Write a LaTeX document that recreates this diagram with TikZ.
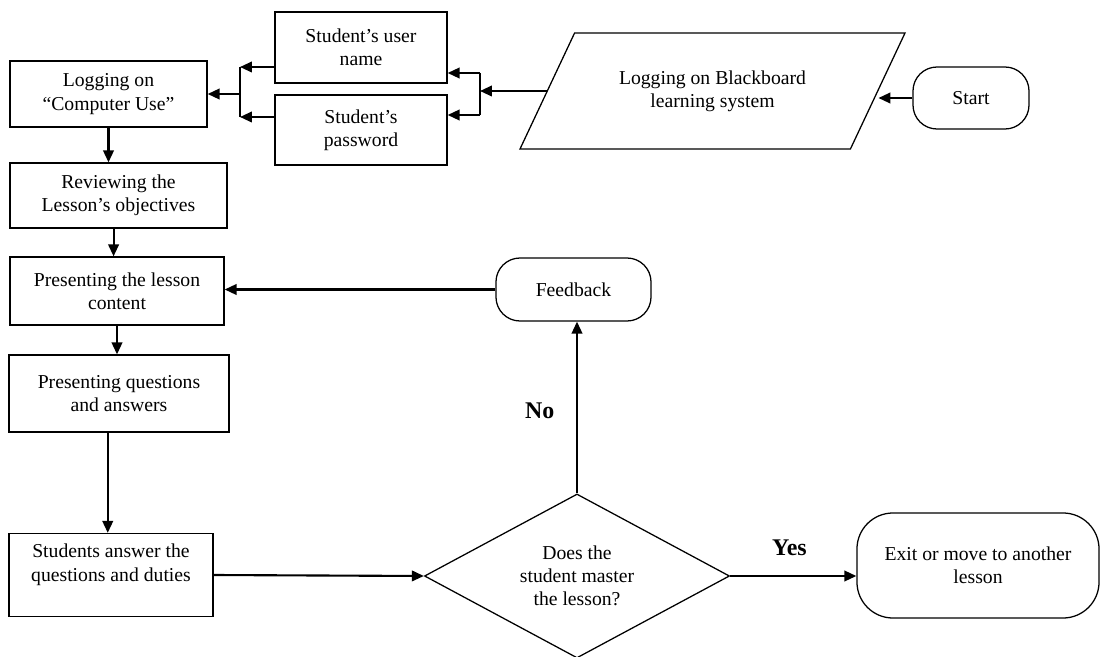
\documentclass[tikz,border=0pt]{standalone}
\usepackage{fontspec}
\setmainfont{Liberation Serif}
\usetikzlibrary{shapes.geometric,arrows.meta}

\begin{document}
\begin{tikzpicture}[x=0.025cm, y=-0.025cm,
  font=\fontsize{14}{16.5}\selectfont,
  box/.style={draw, line width=0.9pt, align=center, inner sep=0pt},
  term/.style={box, rounded corners=0.6cm},
  arr/.style={-{Triangle[length=8.5pt,width=7.5pt]}, line width=1.5pt},
  answerlbl/.style={font=\fontsize{17}{20}\selectfont\bfseries}]
  \useasboundingbox (0,0) rectangle (1100,657);

  % login column
  \node[box, minimum width=4.925cm, minimum height=1.65cm] (login) at (108.5,94) {Logging on\\``Computer Use''};
  \node[box, minimum width=5.425cm, minimum height=1.625cm] (review) at (118.5,195.5) {Reviewing the\\Lesson's objectives};
  \node[box, minimum width=5.35cm, minimum height=1.7cm] (content) at (117,291) {Presenting the lesson\\content};
  \node[box, minimum width=5.5cm, minimum height=1.925cm] (questions) at (119,393.5) {Presenting questions\\and answers};
  \node[box, minimum width=5.1cm, minimum height=2.075cm] (answer) at (111,575) {Students answer the\\questions and duties\\[-4pt]\strut};

  % user data
  \node[box, minimum width=4.3cm, minimum height=1.775cm] (uname) at (361,47.5) {Student's user\\name};
  \node[box, minimum width=4.3cm, minimum height=1.75cm] (pwd) at (361,130) {Student's\\password};

  % blackboard and start
  \node[box, trapezium, trapezium left angle=48, trapezium right angle=132, trapezium stretches=true,
        minimum width=9.625cm, minimum height=2.9cm] (bb) at (712.5,91) {Logging on Blackboard\\learning system};
  \node[term, minimum width=2.9cm, minimum height=1.55cm] (start) at (971,98) {Start};

  % decision
  \node[box, diamond, aspect=1.9, minimum width=7.625cm, minimum height=4.1cm] (dm) at (577,576) {Does the\\student master\\the lesson?};
  \node[term, minimum width=3.875cm, minimum height=1.575cm] (fb) at (573.5,289.5) {Feedback};
  \node[term, rounded corners=0.9cm, minimum width=6.05cm, minimum height=2.625cm] (exit) at (978,565.5) {Exit or move to another\\lesson};

  \coordinate (jl1) at (240,67);
  \coordinate (jl2) at (240,117);
  \coordinate (jr1) at (480,73);
  \coordinate (jr2) at (480,115);

  \draw[arr] (start.west) -- (start.west -| bb.east);
  \draw[arr] (bb.west) -- (bb.west -| jr1);
  \draw[line width=1.5pt] (jr1) -- (jr2);
  \draw[arr] (jr1) -- (jr1 -| uname.east);
  \draw[arr] (jr2) -- (jr2 -| pwd.east);
  \draw[arr] (uname.west |- jl1) -- (jl1);
  \draw[arr] (pwd.west |- jl2) -- (jl2);
  \draw[line width=1.5pt] (jl1) -- (jl2);
  \draw[arr] (jl1 |- login.east) -- (login.east);

  \draw[arr] (login.south) -- (login.south |- review.north);
  \draw[arr] ([xshift=-3.5]review.south) -- ([xshift=-3.5]review.south |- content.north);
  \draw[arr] (content.south) -- (content.south |- questions.north);
  \draw[arr] ([xshift=-8]questions.south) -- ([xshift=-8]questions.south |- answer.north);
  \draw[arr] (answer.east) -- (dm.west);

  \draw[arr] (dm.north) -- node[answerlbl, left=12pt, pos=0.48] (no) {No} (dm.north |- fb.south);
  \draw[arr] (fb.west) -- (fb.west -| content.east);
  \draw[arr] (dm.east) -- node[answerlbl, above=10pt, pos=0.47] (yes) {Yes} (dm.east -| exit.west);
\end{tikzpicture}
\end{document}
